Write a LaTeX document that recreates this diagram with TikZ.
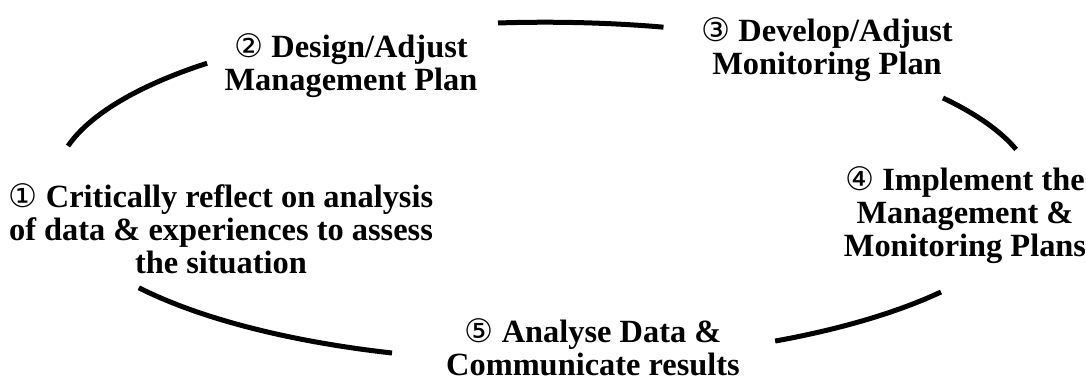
\documentclass[tikz,border=0pt]{standalone}
\usepackage{fontspec}
\setmainfont{Liberation Serif}
\newfontfamily\circfont{DejaVu Sans}
\usetikzlibrary{calc}
\definecolor{cycink}{RGB}{0,0,0}
\newcommand{\stagenum}[1]{{\circfont\mdseries #1}}
\tikzset{
  stage/.style={
    align=center, inner sep=0pt, text=cycink,
    font=\fontsize{16.2}{16.5}\selectfont\bfseries
  },
  cyc/.style={draw=cycink, line width=2.5pt},
}
\begin{document}
\begin{tikzpicture}[x=0.5pt, y=0.5pt]
  \useasboundingbox (0,0) rectangle (1086,380);
  % the five stages
  \node[stage] (reflect) at (221,151)
    {\stagenum{①} Critically reflect on analysis\\of data \& experiences to assess\\the situation};
  \node[stage] (design) at (351,314) {\stagenum{②} Design/Adjust\\Management Plan};
  \node[stage] (develop) at (827,330) {\stagenum{③} Develop/Adjust\\Monitoring Plan};
  \node[stage] (implement) at (965,165)
    {\stagenum{④} Implement the\\Management \&\\Monitoring Plans};
  \node[stage] (analyse) at (593,33) {\stagenum{⑤} Analyse Data \&\\Communicate results};
  % cycle arcs, all from one ellipse
  \coordinate (a12) at (68,234);
  \coordinate (a23) at (498,357);
  \coordinate (a34) at (943,282);
  \coordinate (a45) at (941,88);
  \coordinate (a51) at (392,27);
  \draw[cyc] (a12) arc[start angle=166.8, end angle=133.6, x radius=490, y radius=167];
  \draw[cyc] (a23) arc[start angle=95.5, end angle=76, x radius=490, y radius=167];
  \draw[cyc] (a34) arc[start angle=35.7, end angle=16, x radius=490, y radius=167];
  \draw[cyc] (a45) arc[start angle=-36.1, end angle=-62, x radius=490, y radius=167];
  \draw[cyc] (a51) arc[start angle=-108.2, end angle=-146, x radius=490, y radius=167];
\end{tikzpicture}
\end{document}
